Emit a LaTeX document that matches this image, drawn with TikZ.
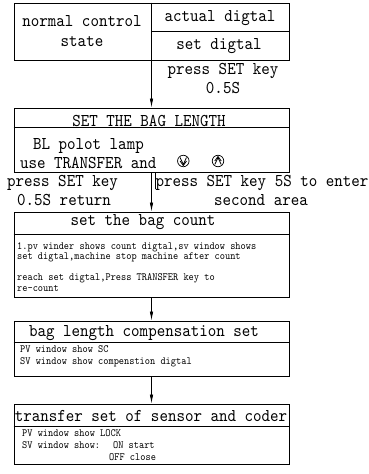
\documentclass[tikz,border=0pt]{standalone}
\usepackage{fontspec}
\newfontfamily\panelfont[FakeStretch=0.9]{lmmono10-regular.otf}
\usetikzlibrary{arrows.meta}
\newcommand{\keysize}{11.5pt}
\tikzset{
  panel/.style={draw, line width=.9pt, minimum width=275pt, inner sep=0pt},
  big/.style={font=\fontsize{18}{20}\panelfont, inner sep=0pt, anchor=base},
  small/.style={font=\fontsize{11}{12}\panelfont, inner sep=0pt, anchor=base west},
  keybtn/.style={draw, circle, line width=.7pt, minimum size=\keysize, inner sep=0pt},
  flow/.style={-{Latex[length=9pt,width=3.5pt]}, line width=.7pt},
}

\begin{document}
\begin{tikzpicture}[x=1pt,y=-1pt]
  \useasboundingbox (0,0) rectangle (369,474);
  % panels
  \node (normal) at (151.5,31.5) [panel, minimum height=57pt] {};
  \node (baglen) at (151.5,140) [panel, minimum height=64pt] {};
  \node (bagcount) at (151.5,254.5) [panel, minimum height=85pt] {};
  \node (compens) at (151.5,348.5) [panel, minimum height=55pt] {};
  \node (transfer) at (151.5,434) [panel, minimum height=60pt] {};

  \draw[line width=.9pt] (normal.north) -- (normal.south);
  \draw[line width=.9pt] (normal.center) -- (normal.east);
  \draw[line width=.9pt] ([yshift=-20pt]baglen.north west) -- ([yshift=-20pt]baglen.north east);
  \draw[line width=.9pt] ([yshift=-23pt]bagcount.north west) -- ([yshift=-23pt]bagcount.north east);
  \draw[line width=.9pt] ([yshift=-22pt]compens.north west) -- ([yshift=-22pt]compens.north east);
  \draw[line width=.9pt] ([yshift=-23pt]transfer.north west) -- ([yshift=-23pt]transfer.north east);

  % texts
  \node at (82,26.7) [big] {normal control};
  \node at (82,46.7) [big] {state};
  \node at (220,21.7) [big] {actual digtal};
  \node at (219,49.3) [big] {set digtal};
  \node at (223,74) [big] {press SET key};
  \node at (223,93.3) [big] {0.5S};

  \node at (149,126) [big] {SET THE BAG LENGTH};
  \node at (33,149) [big, anchor=base west] {BL polot lamp};
  \node (usetxt) at (20,168.3) [big, anchor=base west] {use TRANSFER and};
  \node (downkey) at (183.3,161) [keybtn] {};
  \node (upkey) at (218,161) [keybtn] {};
  \draw[line width=.8pt] ([shift={(-3.2pt,3.5pt)}]downkey.center) -- ([shift={(0pt,-3.5pt)}]downkey.center) -- ([shift={(3.2pt,3.5pt)}]downkey.center);
  \draw[line width=.8pt] ([shift={(-3.2pt,0pt)}]downkey.center) -- ([shift={(0pt,-4.5pt)}]downkey.center) -- ([shift={(3.2pt,0pt)}]downkey.center);
  \draw[line width=.8pt] ([shift={(-3.2pt,-3.5pt)}]upkey.center) -- ([shift={(0pt,3.5pt)}]upkey.center) -- ([shift={(3.2pt,-3.5pt)}]upkey.center);
  \draw[line width=.8pt] ([shift={(-3.2pt,0pt)}]upkey.center) -- ([shift={(0pt,4.5pt)}]upkey.center) -- ([shift={(3.2pt,0pt)}]upkey.center);

  \node at (62.5,186.7) [big] {press SET key};
  \node at (64,205) [big] {0.5S return};
  \node at (262,186.7) [big] {press SET key 5S to enter};
  \node at (261,205) [big] {second area};

  \node at (143,225.7) [big] {set the bag count};
  \node at (17,249) [small] {1.pv winder shows count digtal,sv window shows};
  \node at (17,259.7) [small] {set digtal,machine stop machine after count};
  \node at (17,280) [small] {reach set digtal,Press TRANSFER key to};
  \node at (17,291.7) [small] {re-count};

  \node at (144,336) [big] {bag length compensation set};
  \node at (20,352.7) [small] {PV window show SC};
  \node at (20,364.3) [small] {SV window show compenstion digtal};

  \node at (151,421) [big] {transfer set of sensor and coder};
  \node at (22,436) [small] {PV window show LOCK};
  \node (onstart) at (22,448.7) [small] {SV window show:\hspace{6pt} ON start};
  \node at (109,460) [small] {OFF close};

  % connectors
  \coordinate (tick) at (155,189);
  \draw[flow] (normal.south) -- (baglen.north);
  \draw[flow] (baglen.south) -- (bagcount.north);
  \draw[line width=.6pt] (tick |- baglen.south) -- (tick);
  \draw[flow] (bagcount.south) -- (compens.north);
  \draw[flow] (compens.south) -- (transfer.north);
\end{tikzpicture}
\end{document}
